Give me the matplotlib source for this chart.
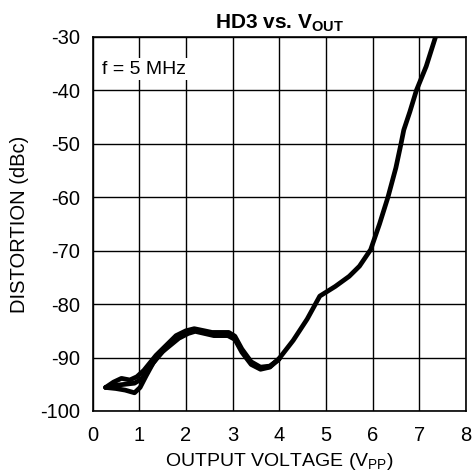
import matplotlib
matplotlib.use('Agg')
import matplotlib.pyplot as plt

plt.rcParams['font.family'] = ['Liberation Sans', 'DejaVu Sans']
plt.rcParams['axes.unicode_minus'] = False
plt.rcParams['mathtext.fontset'] = 'custom'
plt.rcParams['mathtext.rm'] = 'Liberation Sans'
plt.rcParams['mathtext.bf'] = 'Liberation Sans:bold'

# trace 1 (upper loop)
v1 = [0.28, 0.45, 0.62, 0.8, 0.95, 1.1, 1.36, 1.79, 2.0, 2.18, 2.4, 2.56, 2.92, 3.05, 3.2, 3.4, 3.6, 3.8, 3.98,
      4.3, 4.6, 4.87, 5.2, 5.5, 5.72, 5.96, 6.15, 6.33, 6.5, 6.61, 6.67, 6.8, 6.94, 7.15, 7.35]
d1 = [-95.6, -94.6, -93.9, -94.2, -93.6, -92.4, -89.6, -85.9, -85.0, -84.6, -85.0, -85.3, -85.3, -86.0, -88.4, -90.8, -91.8, -91.6, -90.4,
      -86.8, -82.8, -78.5, -76.7, -74.8, -72.9, -69.8, -65.0, -60.0, -54.5, -50.0, -47.4, -44.0, -40.0, -35.5, -30.0]

# trace 2 (middle)
v2 = [0.28, 0.5, 0.7, 0.9, 1.05, 1.2, 1.4, 1.8, 2.0, 2.2, 2.4, 2.6, 2.9, 3.05, 3.2, 3.4, 3.6, 3.8, 4.0]
d2 = [-95.6, -95.2, -95.0, -94.8, -94.0, -92.2, -89.8, -86.2, -85.3, -84.9, -85.3, -85.6, -85.6, -86.3, -88.7, -91.0, -92.0, -91.7, -90.3]

# trace 3 (lower loop)
v3 = [0.28, 0.5, 0.7, 0.9, 1.02, 1.15, 1.3, 1.5, 1.85, 2.05, 2.2, 2.4, 2.6, 2.9, 3.05, 3.2, 3.4, 3.6, 3.8, 4.0]
d3 = [-95.6, -95.8, -96.1, -96.6, -95.6, -93.4, -91.0, -88.9, -86.4, -85.5, -85.1, -85.5, -85.9, -85.9, -86.6, -89.0, -91.3, -92.2, -91.8, -90.2]

xticks = [0, 1, 2, 3, 4, 5, 6, 7, 8]
yticks = [-100, -90, -80, -70, -60, -50, -40, -30]

fig = plt.figure(figsize=(4.72, 4.74), dpi=100)
ax = fig.add_axes([0.196, 0.133, 0.791, 0.789])

ax.set_xlim(0, 8)
ax.set_ylim(-100, -30)
ax.set_xticks(xticks)
ax.set_yticks(yticks)
ax.grid(True, color='black', linewidth=1.0)
ax.set_axisbelow(True)
ax.tick_params(length=0, labelsize=14.5)
ax.tick_params(axis='y', pad=9)
ax.tick_params(axis='x', pad=11)
for s in ax.spines.values():
    s.set_linewidth(1.2)

for v, d in [(v1, d1), (v2, d2), (v3, d3)]:
    ax.plot(v, d, color='black', linewidth=3.4, solid_joinstyle='round', solid_capstyle='round')

ax.text(0.2, -36, 'f = 5 MHz', fontsize=14, ha='left', va='center',
        bbox=dict(facecolor='white', edgecolor='none', pad=2))

ax.set_title(r'HD3 vs. V$_{\mathbf{OUT}}$', fontsize=15, fontweight='bold', pad=6)
ax.set_xlabel(r'OUTPUT VOLTAGE (V$_{\mathrm{PP}}$)', fontsize=14, labelpad=4)
ax.set_ylabel('DISTORTION (dBc)', fontsize=14.5, labelpad=8)

fig.savefig('out.png', dpi=100)
